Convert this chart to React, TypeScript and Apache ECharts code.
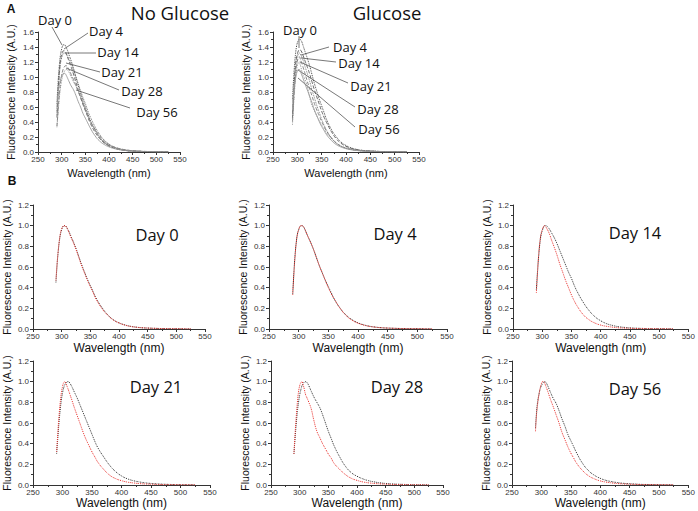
import React, { useEffect, useRef } from 'react';
import * as echarts from 'echarts';

// ---------- data ----------
const WAVELENGTH = [290, 292, 294, 296, 298, 300, 302, 304, 306, 308, 310, 313, 316, 320, 325, 330, 335, 340, 345, 350, 355, 360, 370, 380, 390, 400, 410, 420, 430, 440, 450, 460, 470, 480, 490, 500, 510, 520, 525];

const DAYS = ['Day 0', 'Day 4', 'Day 14', 'Day 21', 'Day 28', 'Day 56'];

// peak intensities
const PEAK_NO_GLUCOSE = [1.43, 1.35, 1.32, 1.15, 1.1, 1.05];
const PEAK_GLUCOSE = [1.5, 1.36, 1.32, 1.27, 1.2, 1.1];

// normalized spectra (black = no glucose, red = glucose)
const D0_NOGLU = [0.45, 0.62, 0.75, 0.85, 0.92, 0.96, 0.99, 1.0, 1.0, 0.99, 0.97, 0.94, 0.9, 0.85, 0.78, 0.7, 0.62, 0.55, 0.48, 0.42, 0.36, 0.3, 0.21, 0.14, 0.09, 0.06, 0.04, 0.026, 0.018, 0.012, 0.009, 0.007, 0.005, 0.004, 0.003, 0.003, 0.002, 0.001, 0.001];
const D0_GLU = [0.47, 0.63, 0.76, 0.86, 0.93, 0.97, 0.99, 1.0, 1.0, 0.99, 0.97, 0.93, 0.89, 0.84, 0.77, 0.69, 0.61, 0.54, 0.47, 0.41, 0.35, 0.29, 0.2, 0.135, 0.088, 0.058, 0.038, 0.025, 0.017, 0.012, 0.009, 0.007, 0.005, 0.004, 0.003, 0.003, 0.002, 0.001, 0.001];
const D4_NOGLU = [0.34, 0.55, 0.72, 0.84, 0.92, 0.96, 0.99, 1.0, 1.0, 0.99, 0.97, 0.93, 0.89, 0.84, 0.77, 0.69, 0.61, 0.54, 0.47, 0.41, 0.35, 0.29, 0.2, 0.135, 0.09, 0.06, 0.04, 0.026, 0.018, 0.012, 0.009, 0.007, 0.005, 0.004, 0.003, 0.003, 0.002, 0.001, 0.001];
const D4_GLU = [0.33, 0.54, 0.71, 0.84, 0.92, 0.96, 0.99, 1.0, 1.0, 0.99, 0.97, 0.93, 0.89, 0.84, 0.77, 0.69, 0.61, 0.54, 0.47, 0.4, 0.34, 0.29, 0.2, 0.13, 0.085, 0.056, 0.037, 0.025, 0.017, 0.012, 0.009, 0.007, 0.005, 0.004, 0.003, 0.003, 0.002, 0.001, 0.001];
const D14_NOGLU = [0.38, 0.56, 0.71, 0.83, 0.91, 0.95, 0.98, 1.0, 1.0, 0.995, 0.985, 0.96, 0.93, 0.89, 0.83, 0.76, 0.69, 0.62, 0.55, 0.49, 0.42, 0.36, 0.26, 0.18, 0.12, 0.08, 0.052, 0.035, 0.023, 0.016, 0.011, 0.008, 0.006, 0.004, 0.003, 0.003, 0.002, 0.001, 0.001];
const D14_GLU = [0.35, 0.55, 0.72, 0.84, 0.92, 0.96, 0.99, 1.0, 0.99, 0.97, 0.95, 0.91, 0.86, 0.8, 0.72, 0.63, 0.55, 0.47, 0.4, 0.33, 0.27, 0.22, 0.14, 0.09, 0.058, 0.038, 0.026, 0.018, 0.012, 0.009, 0.007, 0.005, 0.004, 0.003, 0.003, 0.002, 0.002, 0.001, 0.001];
const D21_NOGLU = [0.3, 0.45, 0.6, 0.72, 0.82, 0.89, 0.94, 0.97, 0.99, 1.0, 1.0, 0.98, 0.95, 0.9, 0.84, 0.77, 0.7, 0.63, 0.56, 0.49, 0.42, 0.36, 0.27, 0.19, 0.13, 0.088, 0.06, 0.042, 0.03, 0.021, 0.015, 0.011, 0.008, 0.006, 0.004, 0.003, 0.002, 0.002, 0.001];
const D21_GLU = [0.32, 0.5, 0.66, 0.79, 0.89, 0.95, 0.99, 1.0, 0.98, 0.95, 0.92, 0.87, 0.82, 0.75, 0.67, 0.59, 0.51, 0.44, 0.38, 0.32, 0.27, 0.22, 0.15, 0.095, 0.062, 0.042, 0.028, 0.02, 0.014, 0.01, 0.008, 0.006, 0.004, 0.003, 0.003, 0.002, 0.002, 0.001, 0.001];
const D28_NOGLU = [0.3, 0.45, 0.59, 0.71, 0.8, 0.87, 0.92, 0.96, 0.98, 0.995, 1.0, 0.99, 0.96, 0.91, 0.85, 0.8, 0.75, 0.68, 0.6, 0.52, 0.45, 0.38, 0.27, 0.18, 0.12, 0.085, 0.06, 0.042, 0.03, 0.021, 0.015, 0.011, 0.008, 0.006, 0.004, 0.003, 0.002, 0.002, 0.001];
const D28_GLU = [0.3, 0.5, 0.66, 0.8, 0.9, 0.96, 0.99, 1.0, 0.97, 0.93, 0.88, 0.84, 0.8, 0.74, 0.62, 0.52, 0.46, 0.4, 0.35, 0.3, 0.26, 0.21, 0.15, 0.1, 0.065, 0.045, 0.03, 0.021, 0.015, 0.011, 0.008, 0.006, 0.004, 0.003, 0.003, 0.002, 0.002, 0.001, 0.001];
const D56_NOGLU = [0.55, 0.72, 0.82, 0.88, 0.93, 0.96, 0.98, 0.995, 1.0, 0.99, 0.97, 0.93, 0.89, 0.84, 0.79, 0.72, 0.64, 0.57, 0.49, 0.43, 0.37, 0.31, 0.21, 0.14, 0.095, 0.065, 0.045, 0.032, 0.023, 0.016, 0.012, 0.009, 0.006, 0.005, 0.004, 0.003, 0.002, 0.002, 0.001];
const D56_GLU = [0.52, 0.7, 0.8, 0.88, 0.94, 0.98, 1.0, 1.0, 0.98, 0.95, 0.92, 0.87, 0.82, 0.76, 0.68, 0.6, 0.51, 0.44, 0.37, 0.31, 0.26, 0.21, 0.14, 0.09, 0.06, 0.04, 0.028, 0.02, 0.014, 0.01, 0.008, 0.006, 0.004, 0.003, 0.003, 0.002, 0.002, 0.001, 0.001];

const NOGLU = [D0_NOGLU, D4_NOGLU, D14_NOGLU, D21_NOGLU, D28_NOGLU, D56_NOGLU];
const GLU = [D0_GLU, D4_GLU, D14_GLU, D21_GLU, D28_GLU, D56_GLU];

const X_TICKS = [250, 300, 350, 400, 450, 500, 550];

// ---------- layout ----------
const FONT = 'Liberation Sans, Arial, sans-serif';
const DAYFONT = '"Open Sans", "Noto Sans", sans-serif';

const GRIDS = [
  { left: 38, top: 32, width: 142, height: 120 },   // A no glucose
  { left: 273, top: 32, width: 146, height: 120 },  // A glucose
  { left: 32, top: 205, width: 173, height: 124 },  // Day 0
  { left: 269, top: 205, width: 178, height: 124 }, // Day 4
  { left: 513, top: 205, width: 177, height: 124 }, // Day 14
  { left: 32, top: 361, width: 178, height: 124 },  // Day 21
  { left: 271, top: 361, width: 172, height: 124 }, // Day 28
  { left: 512, top: 361, width: 178, height: 124 }, // Day 56
];

const axisLine = { show: true, onZero: false, lineStyle: { color: '#333', width: 1 } };

function xAxis(gridIndex: number, nameGap: number, nameSize: number) {
  return {
    type: 'value', gridIndex, min: X_TICKS[0], max: X_TICKS[X_TICKS.length - 1], interval: 50,
    name: 'Wavelength (nm)', nameLocation: 'middle', nameGap,
    nameTextStyle: { fontFamily: FONT, fontSize: nameSize, color: '#111' },
    axisLine,
    axisTick: { show: true, length: 3, lineStyle: { color: '#333' } },
    minorTick: { show: true, splitNumber: 2, length: 2, lineStyle: { color: '#333' } },
    axisLabel: { fontFamily: FONT, fontSize: 8, color: '#333', margin: 3 },
    splitLine: { show: false },
  };
}

function yAxis(gridIndex: number, max: number, nameGap: number) {
  return {
    type: 'value', gridIndex, min: 0, max, interval: 0.2,
    name: 'Fluorescence Intensity (A.U.)', nameLocation: 'middle', nameGap,
    nameTextStyle: { fontFamily: FONT, fontSize: 10.5, color: '#111' },
    axisLine,
    axisTick: { show: true, length: 3, lineStyle: { color: '#333' } },
    minorTick: { show: true, splitNumber: 2, length: 2, lineStyle: { color: '#333' } },
    axisLabel: { fontFamily: FONT, fontSize: 8, color: '#333', margin: 4, formatter: (v: number) => v.toFixed(1) },
    splitLine: { show: false },
  };
}

const A_COLORS = ['#333', '#555', '#666', '#777', '#888', '#999'];
const A_TYPES = ['dotted', 'dashed', 'dotted', 'dashed', 'dotted', 'solid'];

function buildOption() {
  const xAxes: any[] = [];
  const yAxes: any[] = [];
  GRIDS.forEach((_, i) => {
    if (i < 2) {
      xAxes.push(xAxis(i, 15, 11));
      yAxes.push(yAxis(i, 1.6, 22));
    } else {
      xAxes.push(xAxis(i, i < 5 ? 13 : 12, 12));
      yAxes.push(yAxis(i, 1.2, 21));
    }
  });

  const series: any[] = [];
  DAYS.forEach((day, d) => {
    series.push({
      type: 'line', name: day + ' no glucose', xAxisIndex: 0, yAxisIndex: 0, showSymbol: false, smooth: true,
      lineStyle: { color: A_COLORS[d], width: 0.9, type: A_TYPES[d] },
      data: WAVELENGTH.map((w, i) => [w, +(NOGLU[d][i] * PEAK_NO_GLUCOSE[d]).toFixed(4)]),
    });
    series.push({
      type: 'line', name: day + ' glucose', xAxisIndex: 1, yAxisIndex: 1, showSymbol: false, smooth: true,
      lineStyle: { color: A_COLORS[d], width: 0.9, type: A_TYPES[d] },
      data: WAVELENGTH.map((w, i) => [w, +(GLU[d][i] * PEAK_GLUCOSE[d]).toFixed(4)]),
    });
    series.push({
      type: 'line', name: day + ' B no glucose', xAxisIndex: d + 2, yAxisIndex: d + 2, showSymbol: false, smooth: true,
      lineStyle: { color: '#333', width: 1, type: 'dotted' },
      data: WAVELENGTH.map((w, i) => [w, NOGLU[d][i]]),
    });
    series.push({
      type: 'line', name: day + ' B glucose', xAxisIndex: d + 2, yAxisIndex: d + 2, showSymbol: false, smooth: true,
      lineStyle: { color: '#e8322e', width: 1, type: 'dotted' },
      data: WAVELENGTH.map((w, i) => [w, GLU[d][i]]),
    });
  });

  const txt = (text: string, x: number, y: number, fontSize: number, fontFamily: string, fontWeight = 'normal') => ({
    type: 'text', x, y, silent: true,
    style: { text, fontSize, fontFamily, fontWeight, fill: '#111', align: 'center', verticalAlign: 'middle' },
  });
  const ln = (x1: number, y1: number, x2: number, y2: number) => ({
    type: 'line', silent: true, shape: { x1, y1, x2, y2 }, style: { stroke: '#555', lineWidth: 0.8 },
  });

  // panel A annotations: [label center x, y, line start x, y, line end x, y]
  const A1_LABELS = [
    [55, 20, 52, 27, 62, 45],
    [106, 31, 88, 33, 64, 49],
    [118, 52, 96, 53, 65, 53],
    [122, 72, 100, 72, 66, 63],
    [142, 91, 119, 90, 66, 68],
    [157, 112, 130, 108, 76, 90],
  ];
  const A2_LABELS = [
    [300, 30, 299, 36, 299, 48],
    [350, 47, 329, 47, 301, 55],
    [359, 63, 336, 62, 301, 58],
    [371, 86, 348, 83, 300, 62],
    [378, 109, 355, 107, 298, 70],
    [379, 129, 355, 127, 298, 78],
  ];
  const B_LABEL_POS = [[157, 234], [395, 233], [635, 232], [156, 386], [397, 386], [635, 388]];

  const graphic: any[] = [
    txt('A', 11, 9, 12, FONT, 'bold'),
    txt('B', 12, 181, 12, FONT, 'bold'),
    txt('No Glucose', 180, 12, 18.5, DAYFONT),
    txt('Glucose', 387, 12, 18.5, DAYFONT),
  ];
  A1_LABELS.forEach((p, d) => {
    graphic.push(ln(p[2], p[3], p[4], p[5]));
    graphic.push(txt(DAYS[d], p[0], p[1], 13, DAYFONT));
  });
  A2_LABELS.forEach((p, d) => {
    graphic.push(ln(p[2], p[3], p[4], p[5]));
    graphic.push(txt(DAYS[d], p[0], p[1], 13, DAYFONT));
  });
  B_LABEL_POS.forEach((p, d) => graphic.push(txt(DAYS[d], p[0], p[1], 16.5, DAYFONT)));

  return {
    animation: false,
    backgroundColor: '#fff',
    grid: GRIDS.map((g) => ({ ...g, containLabel: false })),
    xAxis: xAxes,
    yAxis: yAxes,
    series,
    graphic,
  };
}

export default function App() {
  const ref = useRef<HTMLDivElement>(null);
  useEffect(() => {
    if (!ref.current) return;
    const chart = echarts.init(ref.current, null, { renderer: 'svg' });
    chart.setOption(buildOption() as any);
    return () => chart.dispose();
  }, []);
  return (
    <div
      ref={ref}
      style={{ position: 'absolute', left: 0, top: 0, width: 698, height: 511, background: '#fff' }}
    />
  );
}
